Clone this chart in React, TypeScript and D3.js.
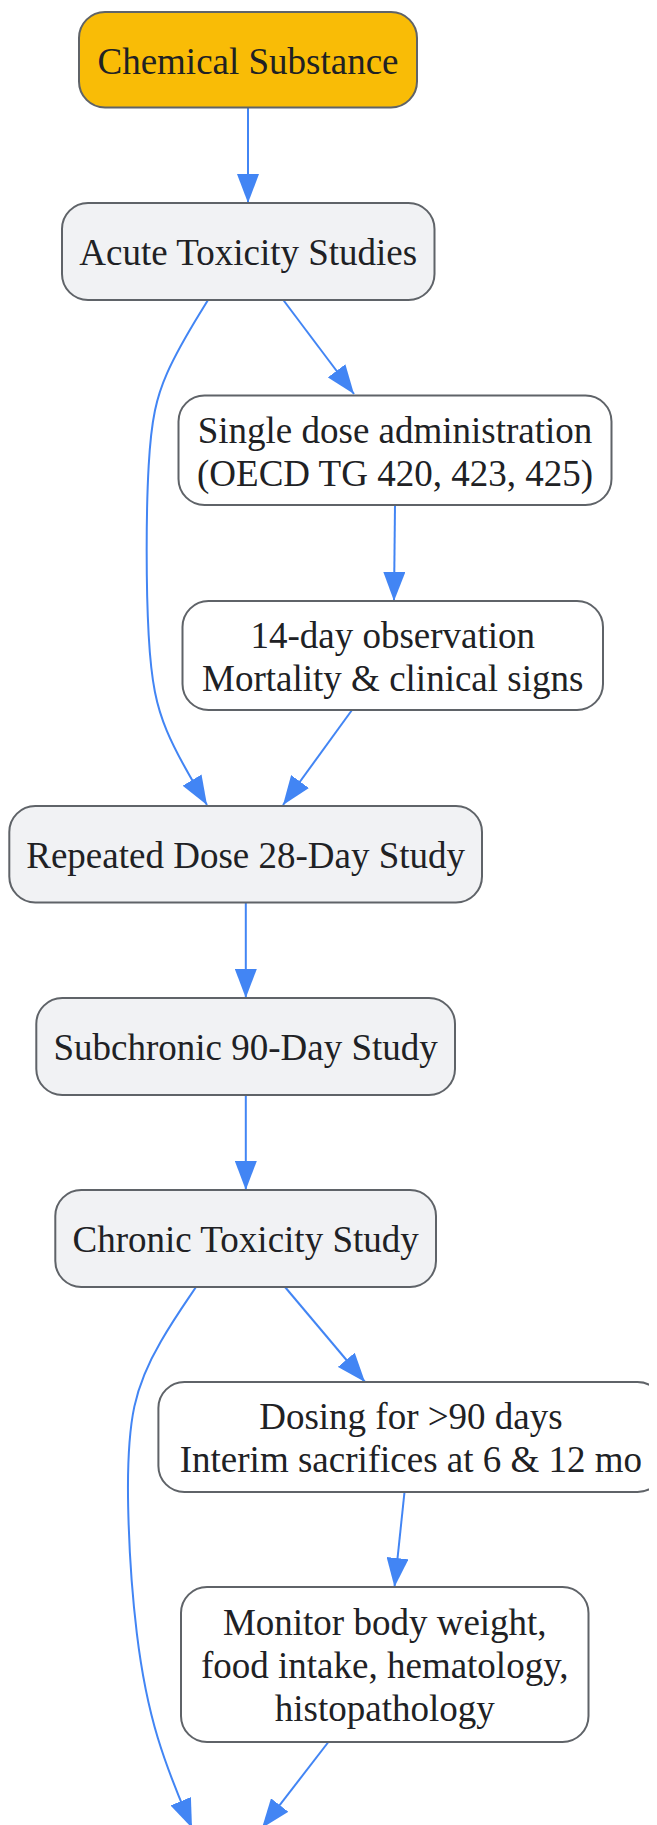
import React from "react";
import * as d3 from "d3";

// ---- data ----
const nodeIds = ["chem", "acute", "single", "obs", "rep", "sub", "chronic", "dosing", "monitor"];
const nodeLabels = [
  ["Chemical Substance"],
  ["Acute Toxicity Studies"],
  ["Single dose administration", "(OECD TG 420, 423, 425)"],
  ["14-day observation", "Mortality & clinical signs"],
  ["Repeated Dose 28-Day Study"],
  ["Subchronic 90-Day Study"],
  ["Chronic Toxicity Study"],
  ["Dosing for >90 days", "Interim sacrifices at 6 & 12 mo"],
  ["Monitor body weight,", "food intake, hematology,", "histopathology"],
];
const nodeKinds = ["start", "stage", "detail", "detail", "stage", "stage", "stage", "detail", "detail"];
const edgeSources = ["chem", "acute", "acute", "single", "obs", "rep", "sub", "chronic", "chronic", "dosing", "monitor"];
const edgeTargets = ["acute", "single", "rep", "obs", "rep", "sub", "chronic", "dosing", "next", "monitor", "next"];

// ---- layout (page coordinates) ----
const layoutBoxes: Record<string, [number, number, number, number]> = {
  chem: [79, 12, 417, 107.5],
  acute: [62, 203, 434.5, 300],
  single: [178.5, 395.5, 611.5, 505],
  obs: [182.5, 601, 603, 710],
  rep: [9.3, 806, 482, 902.5],
  sub: [36.3, 998, 455, 1095],
  chronic: [55.3, 1190, 436, 1287],
  dosing: [158.4, 1382, 663.5, 1492],
  monitor: [181, 1587, 588.5, 1742],
};
const edgeRoutes: [number, number][][] = [
  [[248, 107.5], [248, 203]],
  [[283.3, 300], [354, 394]],
  [[208, 300], [162, 375], [146, 440], [146, 660], [162, 730], [207, 805]],
  [[395, 505], [394, 601]],
  [[352, 710], [283, 805]],
  [[245.8, 902.5], [245.8, 998]],
  [[245.8, 1095], [245.8, 1190]],
  [[285, 1287], [365, 1382]],
  [[196, 1287], [160, 1340], [130, 1400], [126, 1500], [135, 1640], [155, 1740], [192, 1828]],
  [[404.5, 1492], [394.5, 1587]],
  [[328, 1742.5], [262, 1828]],
];

const fills: Record<string, string> = { start: "#F9BC06", stage: "#F1F2F4", detail: "#FFFFFF" };
const FONT = 37;
const LINE_H = 43;

export default function App() {
  const line = d3.line<[number, number]>().x((d) => d[0]).y((d) => d[1]).curve(d3.curveBasis);
  return (
    <svg width={649} height={1817} style={{ display: "block" }}>
      <defs>
        <marker id="arrow" viewBox="0 0 29 22" refX={29} refY={11} markerWidth={29} markerHeight={22}
          markerUnits="userSpaceOnUse" orient="auto">
          <path d="M0,0 L29,11 L0,22 z" fill="#4285F4" />
        </marker>
      </defs>
      <g transform="translate(-8,-8)">
        {edgeRoutes.map((pts, i) => (
          <path key={edgeSources[i] + "-" + edgeTargets[i] + i} d={line(pts) || ""} fill="none" stroke="#4285F4"
            strokeWidth={2} markerEnd="url(#arrow)" />
        ))}
        {nodeIds.map((id, i) => {
          const [x0, y0, x1, y1] = layoutBoxes[id];
          const cx = (x0 + x1) / 2;
          const cy = (y0 + y1) / 2;
          const lines = nodeLabels[i];
          return (
            <g key={id}>
              <rect x={x0} y={y0} width={x1 - x0} height={y1 - y0} rx={26} ry={26}
                fill={fills[nodeKinds[i]]} stroke="#5F6368" strokeWidth={2} />
              <text textAnchor="middle" fontFamily="'Liberation Serif', 'Times New Roman', serif"
                fontSize={FONT} fill="#202124">
                {lines.map((t, j) => (
                  <tspan key={j} x={cx} y={cy + (j - (lines.length - 1) / 2) * LINE_H + 1} dy="0.35em">{t}</tspan>
                ))}
              </text>
            </g>
          );
        })}
      </g>
    </svg>
  );
}
